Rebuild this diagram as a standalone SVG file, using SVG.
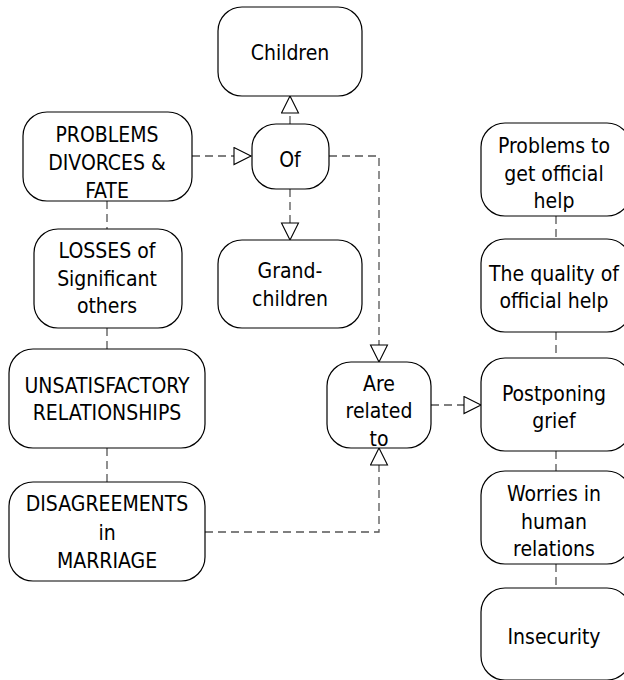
<svg xmlns="http://www.w3.org/2000/svg" width="624" height="680" viewBox="0 0 624 680">
  <style>
    .box { fill: #ffffff; stroke: #000000; stroke-width: 1.2; }
    .lbl { font-family: "DejaVu Sans Condensed", "DejaVu Sans", Verdana, sans-serif; font-stretch: condensed; font-size: 21px; fill: #000000; text-anchor: middle; }
    .link { fill: none; stroke: #555555; stroke-width: 1.3; stroke-dasharray: 8 5; }
  </style>
  <defs>
    <marker id="open-tri" markerUnits="userSpaceOnUse" markerWidth="20" markerHeight="20" viewBox="-1 -1 20 20" refX="17" refY="8.5" orient="auto">
      <path d="M0,0 L17,8.5 L0,17 Z" fill="#ffffff" stroke="#000000" stroke-width="1.1"/>
    </marker>
  </defs>
  <rect width="624" height="680" fill="#ffffff"/>

  <g id="connectors">
    <!-- left column chain -->
    <line class="link" x1="107" y1="201" x2="107" y2="229"/>
    <line class="link" x1="107" y1="328" x2="107" y2="349"/>
    <line class="link" x1="107" y1="448" x2="107" y2="482"/>
    <!-- right column chain -->
    <line class="link" x1="556" y1="216" x2="556" y2="239"/>
    <line class="link" x1="556" y1="332" x2="556" y2="358"/>
    <line class="link" x1="556" y1="451" x2="556" y2="471"/>
    <line class="link" x1="556" y1="564" x2="556" y2="588"/>
    <!-- arrowed links -->
    <line class="link" x1="192" y1="156" x2="251" y2="156" marker-end="url(#open-tri)"/>
    <line class="link" x1="290" y1="124" x2="290" y2="96" marker-end="url(#open-tri)"/>
    <line class="link" x1="290" y1="189" x2="290" y2="240" marker-end="url(#open-tri)"/>
    <polyline class="link" points="329,156 379,156 379,362" marker-end="url(#open-tri)"/>
    <polyline class="link" points="205,532 379,532 379,448" marker-end="url(#open-tri)"/>
    <line class="link" x1="431" y1="405" x2="481" y2="405" marker-end="url(#open-tri)"/>
  </g>

  <g id="children">
    <rect class="box" x="218" y="7" width="144" height="89" rx="24"/>
    <text class="lbl" x="290" y="59.5">Children</text>
  </g>
  <g id="problems-divorces-fate">
    <rect class="box" x="23" y="112" width="169" height="89" rx="24"/>
    <text class="lbl" x="107" y="141.5">PROBLEMS</text>
    <text class="lbl" x="107" y="169.5">DIVORCES &amp;</text>
    <text class="lbl" x="107" y="197.5">FATE</text>
  </g>
  <g id="of">
    <rect class="box" x="252" y="124" width="77" height="65" rx="24"/>
    <text class="lbl" x="290" y="166.5">Of</text>
  </g>
  <g id="grandchildren">
    <rect class="box" x="218" y="240" width="144" height="88" rx="24"/>
    <text class="lbl" x="290" y="278">Grand-</text>
    <text class="lbl" x="290" y="306">children</text>
  </g>
  <g id="losses">
    <rect class="box" x="34" y="229" width="148" height="99" rx="24"/>
    <text class="lbl" x="107" y="258">LOSSES of</text>
    <text class="lbl" x="107" y="286">Significant</text>
    <text class="lbl" x="107" y="313">others</text>
  </g>
  <g id="unsatisfactory">
    <rect class="box" x="9" y="349" width="196" height="99" rx="24"/>
    <text class="lbl" x="107" y="392.5">UNSATISFACTORY</text>
    <text class="lbl" x="107" y="420">RELATIONSHIPS</text>
  </g>
  <g id="disagreements">
    <rect class="box" x="9" y="482" width="196" height="99" rx="24"/>
    <text class="lbl" x="107" y="511">DISAGREEMENTS</text>
    <text class="lbl" x="107" y="539.5">in</text>
    <text class="lbl" x="107" y="567.5">MARRIAGE</text>
  </g>
  <g id="are-related-to">
    <rect class="box" x="327" y="362" width="104" height="86" rx="24"/>
    <text class="lbl" x="379" y="391">Are</text>
    <text class="lbl" x="379" y="418">related</text>
    <text class="lbl" x="379" y="446">to</text>
  </g>
  <g id="problems-official-help">
    <rect class="box" x="481" y="123" width="150" height="93" rx="24"/>
    <text class="lbl" x="554" y="153">Problems to</text>
    <text class="lbl" x="554" y="181">get official</text>
    <text class="lbl" x="554" y="208">help</text>
  </g>
  <g id="quality-official-help">
    <rect class="box" x="481" y="239" width="150" height="93" rx="24"/>
    <text class="lbl" x="554" y="281">The quality of</text>
    <text class="lbl" x="554" y="307.5">official help</text>
  </g>
  <g id="postponing-grief">
    <rect class="box" x="481" y="358" width="150" height="93" rx="24"/>
    <text class="lbl" x="554" y="401">Postponing</text>
    <text class="lbl" x="554" y="427.5">grief</text>
  </g>
  <g id="worries">
    <rect class="box" x="481" y="471" width="150" height="93" rx="24"/>
    <text class="lbl" x="554" y="501">Worries in</text>
    <text class="lbl" x="554" y="528.5">human</text>
    <text class="lbl" x="554" y="556">relations</text>
  </g>
  <g id="insecurity">
    <rect class="box" x="481" y="588" width="150" height="92" rx="24"/>
    <text class="lbl" x="554" y="644">Insecurity</text>
  </g>
</svg>
